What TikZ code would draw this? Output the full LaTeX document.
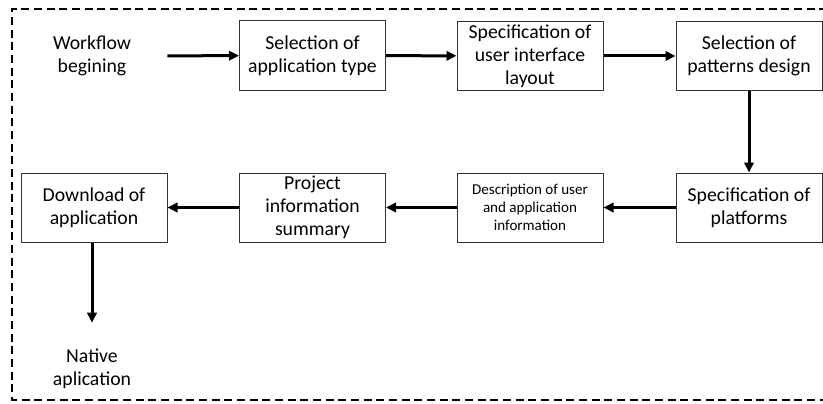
\documentclass[tikz,border=0pt]{standalone}
\usepackage{fontspec}
\setmainfont{Carlito}
\usetikzlibrary{arrows.meta}

\begin{document}
\begin{tikzpicture}[x=0.75pt, y=-0.75pt,
  stepbox/.style={draw=black!80, line width=0.75pt, minimum width=109.5pt,
    minimum height=51.75pt, align=center, inner sep=2pt,
    font=\fontsize{14.8}{17.25}\selectfont},
  smallbox/.style={stepbox, font=\fontsize{11.3}{13.5}\selectfont},
  plain/.style={minimum width=112.5pt, align=center, inner sep=0pt,
    font=\fontsize{14.8}{17.25}\selectfont},
  flow/.style={line width=2.25pt, -{Triangle[length=7.5pt,width=7pt]}}]
\useasboundingbox (0,0) rectangle (823,403);
\draw[line width=1.5pt, dash pattern=on 6pt off 3.5pt] (840,9) -- (12,9) -- (12,400) -- (840,400);

\node[plain] (start) at (92,56) {Workflow\\begining};
\node[stepbox] (appType) at (312.5,55.5) {Selection of\\application type};
\node[stepbox] (uiLayout) at (530,56) {Specification of\\user interface\\layout};
\node[stepbox] (patterns) at (749,56) {Selection of\\patterns design};
\node[stepbox] (platforms) at (749,207.5) {Specification of\\platforms};
\node[smallbox] (userInfo) at (530,207.5) {Description of user\\and application\\information};
\node[stepbox] (summary) at (312.5,207.5) {Project\\information\\summary};
\node[stepbox] (download) at (94,207.5) {Download of\\application};
\node[plain, minimum height=69pt] (native) at (92,369) {Native\\aplication};

\draw[flow] (start) -- (appType);
\draw[flow] (appType) -- (uiLayout);
\draw[flow] (uiLayout) -- (patterns);
\draw[flow] (patterns) -- (platforms);
\draw[flow] (platforms) -- (userInfo);
\draw[flow] (userInfo) -- (summary);
\draw[flow] (summary) -- (download);
\draw[flow] (download.south -| native.north) -- (native.north);
\end{tikzpicture}
\end{document}
